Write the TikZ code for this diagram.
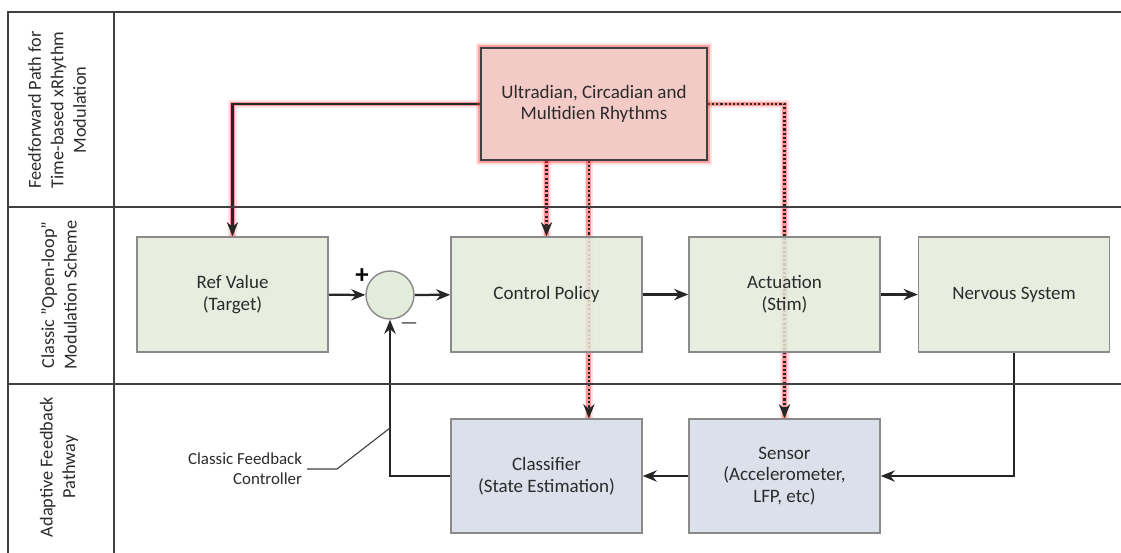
\documentclass[tikz,border=0pt]{standalone}
\usepackage{fontspec}
\setmainfont{Carlito}
\usetikzlibrary{arrows.meta,positioning}
\pgfdeclarelayer{background}
\pgfsetlayers{background,main}

\definecolor{boxgreen}{HTML}{E3EBDB}
\definecolor{boxblue}{HTML}{DCE0EB}
\definecolor{boxpink}{HTML}{F3CBC6}
\definecolor{boxedge}{HTML}{8A8A8A}
\definecolor{darkedge}{HTML}{404040}
\definecolor{textgray}{HTML}{2B2B2B}
\definecolor{glowred}{HTML}{FF4040}

\tikzset{
  box/.style={draw=boxedge, line width=1pt, minimum width=4.775cm, minimum height=2.875cm,
    align=center, text=textgray, font=\fontsize{13.5}{15.5}\selectfont},
  greenbox/.style={box, fill=boxgreen, fill opacity=0.85, text opacity=1},
  bluebox/.style={box, fill=boxblue, minimum height=2.85cm},
  rhythmbox/.style={box, draw=darkedge, fill=boxpink, minimum width=5.65cm, minimum height=2.8cm,
    preaction={draw=glowred, line width=7pt, opacity=0.15},
    preaction={draw=glowred, line width=4pt, opacity=0.4}},
  rowlabel/.style={rotate=90, align=center, text=textgray, font=\fontsize{13}{16}\selectfont},
  tableline/.style={draw=darkedge, line width=1pt},
  conn/.style={draw=black!85, line width=1.6pt, ->},
  glow/.style={preaction={draw=glowred, solid, line width=6pt, opacity=0.15, -},
    preaction={draw=glowred, solid, line width=3.5pt, opacity=0.45, -}},
  dotline/.style={conn, glow, line width=1.6pt, dash pattern=on 1.5pt off 1.5pt},
}

\begin{document}
\begin{tikzpicture}[x=0.025cm, y=-0.025cm, >={Stealth[length=10pt,width=8pt]}]
      \useasboundingbox (0,0) rectangle (1121,553);

      % table frame and row labels
      \draw[tableline] (8,553) -- (8,12) -- (1121,12);
      \draw[tableline] (114,12) -- (114,553);
      \draw[tableline] (8,207) -- (1121,207);
      \draw[tableline] (8,384) -- (1121,384);
      \node[rowlabel] (rowff) at (57,110) {Feedforward Path for\\Time-based xRhythm\\Modulation};
      \node[rowlabel] (rowol) at (59,295) {Classic "Open-loop"\\Modulation Scheme};
      \node[rowlabel] (rowfb) at (59,467) {Adaptive Feedback\\Pathway};

      % blocks
      \node[rhythmbox] (rhythm) at (594,104) {Ultradian, Circadian and\\Multidien Rhythms};
      \node[greenbox] (refval) at (232.5,294.5) {Ref Value\\(Target)};
      \node[circle, draw=boxedge, line width=1pt, fill=boxgreen, minimum size=1.2cm] (sum) at (390,295) {};
      \node[greenbox] (policy) at (546.5,294.5) {Control Policy};
      \node[greenbox] (stim) at (784.5,294.5) {Actuation\\(Stim)};
      \node[greenbox] (nervous) at (1014,294.5) {Nervous System};
      \node[bluebox] (classifier) at (546.5,476) {Classifier\\(State Estimation)};
      \node[bluebox] (sensor) at (784.5,476) {Sensor\\(Accelerometer,\\LFP, etc)};

      \node[font=\bfseries\fontsize{19}{19}\selectfont] (plus) at (362,276) {+};
      \node[font=\fontsize{18}{18}\selectfont] (minus) at (409,323) {$-$};

      \coordinate (clsnode) at ([xshift=1.06cm]classifier.north);
      \coordinate (fbk) at (390,428);
      \node[anchor=east, align=right, text=textgray, font=\fontsize{12}{14.5}\selectfont] (ctrl) at (307,469)
            {Classic Feedback\\Controller};

      \begin{pgfonlayer}{background}
      % feedforward paths
      \draw[conn, glow] (rhythm.west) -| (refval.north);
      \draw[dotline] (rhythm.east) -| (sensor.north);
      \draw[dotline] (rhythm.south -| policy.north) -- (policy.north);
      \draw[dotline] (rhythm.south -| clsnode) -- (clsnode);

      % forward loop
      \draw[conn] (refval) -- (sum);
      \draw[conn] (sum) -- (policy);
      \draw[conn] (policy) -- (stim);
      \draw[conn] (stim) -- (nervous);

      % feedback loop
      \draw[conn] (nervous.south) |- (sensor.east);
      \draw[conn] (sensor) -- (classifier);
      \draw[conn] (classifier.west) -| (sum.south);
      \draw[darkedge, line width=0.8pt] (ctrl.east) -- ++(30,0) -- (fbk);
      \end{pgfonlayer}
\end{tikzpicture}
\end{document}
